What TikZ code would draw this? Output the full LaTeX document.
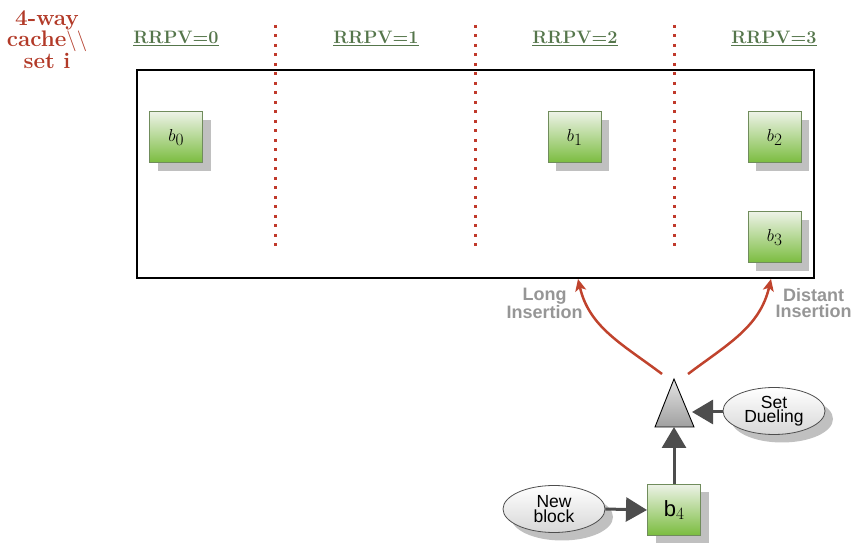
\documentclass[tikz,border=0pt]{standalone}
\usepackage{fontspec}
\setsansfont{Liberation Sans}
\usetikzlibrary{shadows,arrows.meta,shapes.geometric}
\definecolor{titlered}{RGB}{178,58,40}
\definecolor{hdrgreen}{RGB}{85,118,75}
\definecolor{dotred}{RGB}{192,57,43}
\definecolor{arrred}{RGB}{192,67,45}
\definecolor{lblgray}{RGB}{150,150,150}
\definecolor{darkarr}{RGB}{77,77,77}
\definecolor{blkborder}{RGB}{112,140,92}
\definecolor{blktop}{RGB}{236,242,230}
\definecolor{blkbot}{RGB}{122,188,62}
\definecolor{shadowgray}{RGB}{192,192,192}
\definecolor{tritop}{RGB}{228,228,228}
\definecolor{tribot}{RGB}{160,160,160}
\definecolor{ellbot}{RGB}{215,215,215}
\newcommand\blkname[1]{{\fontsize{18}{20}\selectfont$b$\raisebox{-3.7pt}{$#1$}}}
\begin{document}
\begin{tikzpicture}[x=1pt,y=1pt,
  blk/.style={draw=blkborder, line width=1pt, minimum width=53pt, minimum height=51pt, inner sep=0pt,
    top color=blktop, bottom color=blkbot,
    drop shadow={shadow xshift=8pt, shadow yshift=-8pt, fill=shadowgray, opacity=1}},
  ell/.style={ellipse, draw=darkarr, line width=0.8pt, minimum width=102pt, minimum height=47pt, inner sep=0pt,
    top color=white, bottom color=ellbot,
    drop shadow={shadow xshift=8pt, shadow yshift=-8pt, fill=shadowgray, opacity=1},
    align=center, font=\sffamily\fontsize{17.5}{14.5}\selectfont},
  hdr/.style={anchor=base, text=hdrgreen, font=\bfseries\fontsize{18}{20}\selectfont},
  lbl/.style={align=center, text=lblgray, font=\sffamily\bfseries\fontsize{18}{15.5}\selectfont},
  darr/.style={draw=darkarr, line width=3pt, -{Triangle[length=21pt,width=24pt]}},
  rarr/.style={draw=arrred, line width=2.5pt, -{Stealth[length=12pt,width=11pt,inset=3pt]}},
  dotline/.style={draw=dotred, line width=3pt, dash pattern=on 3pt off 6.5pt}
]
\useasboundingbox (0,0) rectangle (856,543);

% title
\node[align=center, text=titlered, font=\bfseries\fontsize{22.5}{21.5}\selectfont] (title) at (47,503.5)
  {4-way\\cache$\backslash\backslash$\\set\ i};

% headers
\node[hdr] (h0) at (176,499) {\underline{RRPV=0}};
\node[hdr] (h1) at (376,499) {\underline{RRPV=1}};
\node[hdr] (h2) at (575,499) {\underline{RRPV=2}};
\node[hdr] (h3) at (774,499) {\underline{RRPV=3}};

% dotted separators
\draw[dotline] (275,518) -- (275,295);
\draw[dotline] (475,518) -- (475,295);
\draw[dotline] (674,518) -- (674,295);

% cache set rectangle
\node[draw, line width=2.5pt, minimum width=677pt, minimum height=208pt, inner sep=0pt] (set) at (475.5,369) {};

% blocks
\node[blk] (b0) at (176,405.5) {\blkname{0}};
\node[blk] (b1) at (574.5,405.5) {\blkname{1}};
\node[blk] (b2) at (774.5,405.5) {\blkname{2}};
\node[blk] (b3) at (774.5,305.5) {\blkname{3}};
\node[blk] (b4) at (674,33) {{\fontsize{22}{24}\selectfont\sffamily b}\raisebox{-3.3pt}{\fontsize{17}{20}\selectfont$4$}};

% selector triangle
\coordinate (tapex) at (674,164);
\coordinate (tbl) at (655,116);
\coordinate (tbr) at (694,116);
\shade[top color=tritop, bottom color=tribot, draw=black, line width=0.9pt] (tapex) -- (tbr) -- (tbl) -- cycle;
\coordinate (tribase) at (674,116);
\coordinate (triright) at (692,131);

% ellipses
\node[ell] (sd) at (774,132) {Set\\Dueling};
\node[ell] (nb) at (554,34) {New\\block};

% dark arrows
\draw[darr] (nb.east) -- (b4.west);
\draw[darr] (b4.north) -- (tribase);
\draw[darr] (sd.west |- triright) -- (triright);

% insertion arrows
\coordinate (ls) at (662,169);
\coordinate (le) at (578,264);
\coordinate (ds) at (688,169);
\coordinate (de) at (771,264);
\draw[rarr] (ls) to[out=143,in=-77] (le);
\draw[rarr] (ds) to[out=37,in=-103] (de);

% labels
\node[lbl] (ll) at (544.5,240) {Long\\Insertion};
\node[lbl] (dl) at (813.5,240) {Distant\\Insertion};
\end{tikzpicture}
\end{document}
